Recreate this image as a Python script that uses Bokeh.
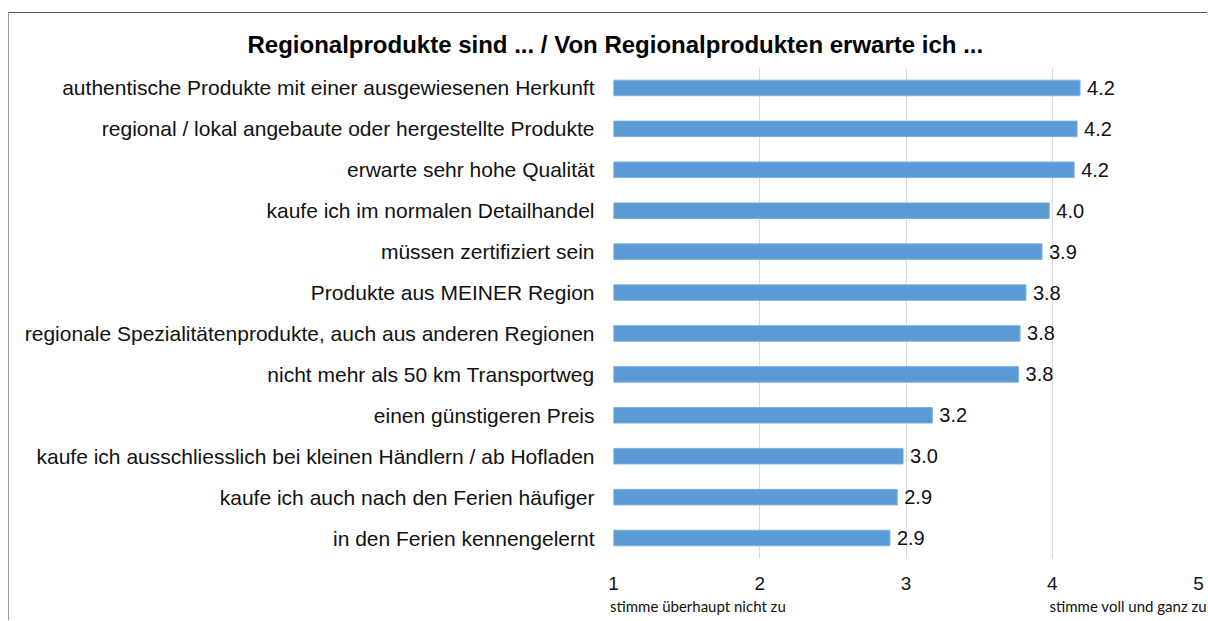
from bokeh.plotting import figure
from bokeh.models import (FactorRange, Range1d, LabelSet, ColumnDataSource,
                          FixedTicker, LinearAxis)
from bokeh.core.properties import value
from bokeh.embed import file_html
from bokeh.resources import INLINE

# ---------------- data ----------------
categories = [
    "authentische Produkte mit einer ausgewiesenen Herkunft",
    "regional / lokal angebaute oder hergestellte Produkte",
    "erwarte sehr hohe Qualität",
    "kaufe ich im normalen Detailhandel",
    "müssen zertifiziert sein",
    "Produkte aus MEINER Region",
    "regionale Spezialitätenprodukte, auch aus anderen Regionen",
    "nicht mehr als 50 km Transportweg",
    "einen günstigeren Preis",
    "kaufe ich ausschliesslich bei kleinen Händlern / ab Hofladen",
    "kaufe ich auch nach den Ferien häufiger",
    "in den Ferien kennengelernt",
]
values = [4.19, 4.17, 4.15, 3.98, 3.93, 3.82, 3.78, 3.77, 3.18, 2.98, 2.94, 2.89]
value_labels = ["4.2", "4.2", "4.2", "4.0", "3.9", "3.8", "3.8", "3.8", "3.2", "3.0", "2.9", "2.9"]
x_ticks = [1, 2, 3, 4, 5]
scale_texts = ["stimme überhaupt  nicht zu", "stimme voll und ganz zu"]
scale_text_pos = [1.59, 4.52]
title_text = "Regionalprodukte sind ... / Von Regionalprodukten erwarte ich ..."

W, H = 1199, 608
BAR_COLOR = "#5B9BD5"
FONT = "Liberation Sans"

src = ColumnDataSource(dict(cat=categories, val=values, lab=value_labels))

p = figure(width=W, height=H, output_backend="svg", toolbar_location=None,
           y_range=FactorRange(factors=categories[::-1]),
           x_range=Range1d(x_ticks[0], x_ticks[-1]),
           min_border_left=604, min_border_right=10,
           min_border_top=54, min_border_bottom=63,
           title=title_text)
p.styles = {"margin-left": "8px", "margin-top": "12px",
            "border-top": "1px solid #555555", "border-left": "1px solid #999999"}
p.outline_line_color = None
p.background_fill_color = "white"
p.border_fill_color = "white"

p.title.align = "left"
p.title.offset = -366
p.title.text_font = FONT
p.title.text_font_size = "24px"
p.title.text_font_style = "bold"
p.title.text_color = "#000000"
p.title.standoff = 20

p.hbar(y="cat", left=x_ticks[0], right="val", height=0.38, source=src,
       fill_color=BAR_COLOR, line_color="#7FB0DE", line_width=1)

labels = LabelSet(x="val", y="cat", text="lab", source=src, x_offset=7,
                  text_align="left", text_baseline="middle",
                  text_font=value(FONT), text_font_size="20px", text_color="#111111")
p.add_layout(labels)

# main x axis (scale values)
p.xaxis.ticker = FixedTicker(ticks=x_ticks)
p.xaxis.axis_line_color = None
p.xaxis.major_tick_line_color = None
p.xaxis.minor_tick_line_color = None
p.xaxis.major_label_text_font = FONT
p.xaxis.major_label_text_font_size = "19px"
p.xaxis.major_label_text_color = "#111111"
p.xaxis.major_label_standoff = 12

# second x axis with the scale end descriptions
ax2 = LinearAxis(ticker=FixedTicker(ticks=scale_text_pos),
                 major_label_overrides={scale_text_pos[0]: scale_texts[0],
                                        scale_text_pos[1]: scale_texts[1]})
ax2.axis_line_color = None
ax2.major_tick_line_color = None
ax2.minor_tick_line_color = None
ax2.major_label_text_font = "Lato"
ax2.major_label_text_font_size = "15px"
ax2.major_label_text_color = "#111111"
ax2.major_label_standoff = -2
p.add_layout(ax2, "below")

p.yaxis.axis_line_color = None
p.yaxis.major_tick_line_color = None
p.yaxis.minor_tick_line_color = None
p.yaxis.major_label_text_font = FONT
p.yaxis.major_label_text_font_size = "21px"
p.yaxis.major_label_text_color = "#111111"
p.yaxis.major_label_standoff = 13

p.xgrid.grid_line_color = "#D9D9D9"
p.xgrid.grid_line_width = 1
p.ygrid.grid_line_color = None

open("out.html", "w").write(file_html(p, INLINE))
